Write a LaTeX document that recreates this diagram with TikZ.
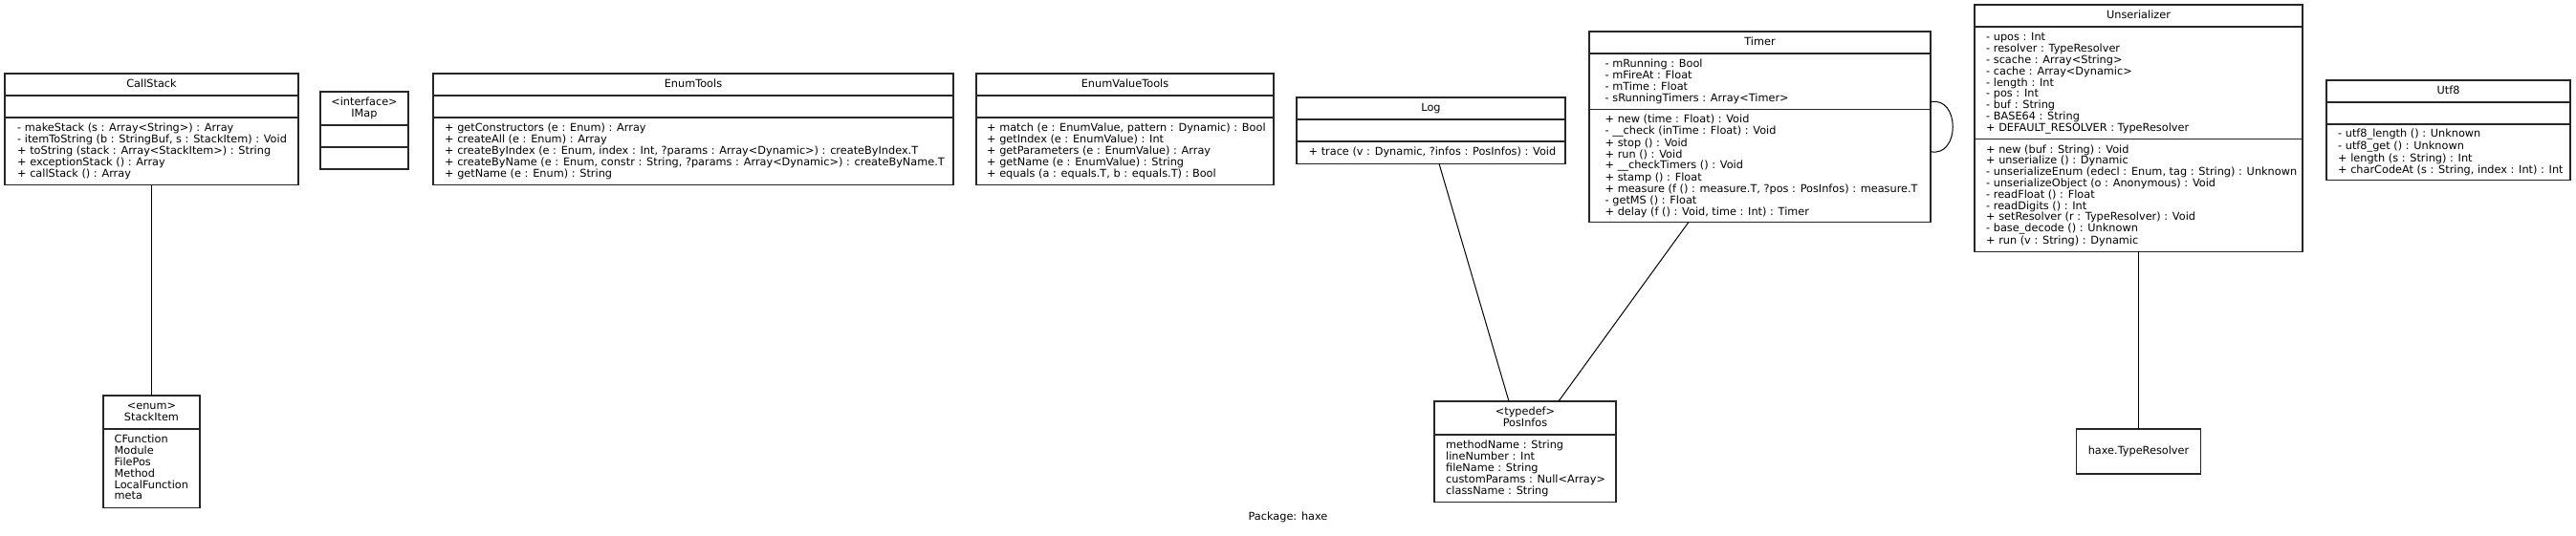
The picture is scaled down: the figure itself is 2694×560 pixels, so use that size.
\documentclass[tikz,border=0pt]{standalone}
\usepackage{fontspec}
\setmainfont{DejaVu Sans}
\newcommand\lstrut{\rule[-2.6pt]{0pt}{11.8pt}}
\tikzset{
  classbox/.style={draw=black!85, line width=1.3pt, rectangle, inner sep=0pt, outer sep=0pt, anchor=north west},
  sepline/.style={draw=black!85, line width=1.3pt},
  txt/.style={inner sep=0pt, align=left, anchor=west, font=\fontsize{11.3}{11.8}\selectfont, text=black},
  ttl/.style={inner sep=0pt, align=center, font=\fontsize{11.3}{11.8}\selectfont, text=black},
  link/.style={draw=black, line width=1pt},
}
\begin{document}
\begin{tikzpicture}[x=1pt,y=-1pt]
\useasboundingbox[fill=white] (0,0) rectangle (2694,560);

% ---------- CallStack ----------
\node[classbox, minimum width=307pt, minimum height=116.5pt] (callstack) at (5,77) {};
\draw[sepline] (callstack.west |- 0,100) -- (callstack.east |- 0,100);
\draw[sepline] (callstack.west |- 0,123) -- (callstack.east |- 0,123);
\node[ttl] (callstack-t) at (158.5,88.5) {\lstrut CallStack};
\node[txt] (callstack-m) at (18,158.25) {\lstrut - makeStack (s : Array<String>) : Array\\
\lstrut - itemToString (b : StringBuf, s : StackItem) : Void\\
\lstrut + toString (stack : Array<StackItem>) : String\\
\lstrut + exceptionStack () : Array\\
\lstrut + callStack () : Array};

% ---------- IMap ----------
\node[classbox, minimum width=92pt, minimum height=81pt] (imap) at (335,96) {};
\draw[sepline] (imap.west |- 0,131) -- (imap.east |- 0,131);
\draw[sepline] (imap.west |- 0,154) -- (imap.east |- 0,154);
\node[ttl] (imap-t) at (381,113.5) {\lstrut <interface>\\ \lstrut IMap};

% ---------- EnumTools ----------
\node[classbox, minimum width=544pt, minimum height=116.5pt] (enumtools) at (453,77) {};
\draw[sepline] (enumtools.west |- 0,100) -- (enumtools.east |- 0,100);
\draw[sepline] (enumtools.west |- 0,123) -- (enumtools.east |- 0,123);
\node[ttl] (enumtools-t) at (725,88.5) {\lstrut EnumTools};
\node[txt] (enumtools-m) at (465,158.25) {\lstrut + getConstructors (e : Enum) : Array\\
\lstrut + createAll (e : Enum) : Array\\
\lstrut + createByIndex (e : Enum, index : Int, ?params : Array<Dynamic>) : createByIndex.T\\
\lstrut + createByName (e : Enum, constr : String, ?params : Array<Dynamic>) : createByName.T\\
\lstrut + getName (e : Enum) : String};

% ---------- EnumValueTools ----------
\node[classbox, minimum width=311pt, minimum height=116.5pt] (evt) at (1021,77) {};
\draw[sepline] (evt.west |- 0,100) -- (evt.east |- 0,100);
\draw[sepline] (evt.west |- 0,123) -- (evt.east |- 0,123);
\node[ttl] (evt-t) at (1176.5,88.5) {\lstrut EnumValueTools};
\node[txt] (evt-m) at (1032,158.25) {\lstrut + match (e : EnumValue, pattern : Dynamic) : Bool\\
\lstrut + getIndex (e : EnumValue) : Int\\
\lstrut + getParameters (e : EnumValue) : Array\\
\lstrut + getName (e : EnumValue) : String\\
\lstrut + equals (a : equals.T, b : equals.T) : Bool};

% ---------- Log ----------
\node[classbox, minimum width=281pt, minimum height=69.3pt] (log) at (1356,102) {};
\draw[sepline] (log.west |- 0,125) -- (log.east |- 0,125);
\draw[sepline] (log.west |- 0,148) -- (log.east |- 0,148);
\node[ttl] (log-t) at (1496.5,113.5) {\lstrut Log};
\node[txt] (log-m) at (1368.5,159.65) {\lstrut + trace (v : Dynamic, ?infos : PosInfos) : Void};

% ---------- Timer ----------
\node[classbox, minimum width=357pt, minimum height=199.4pt] (timer) at (1662,33) {};
\draw[sepline] (timer.west |- 0,56) -- (timer.east |- 0,56);
\draw[sepline] (timer.west |- 0,114.7) -- (timer.east |- 0,114.7);
\node[ttl] (timer-t) at (1840.5,44.5) {\lstrut Timer};
\node[txt] (timer-a) at (1678.5,85.35) {\lstrut - mRunning : Bool\\
\lstrut - mFireAt : Float\\
\lstrut - mTime : Float\\
\lstrut - sRunningTimers : Array<Timer>};
\node[txt] (timer-m) at (1678.5,173.55) {\lstrut + new (time : Float) : Void\\
\lstrut - \_\_check (inTime : Float) : Void\\
\lstrut + stop () : Void\\
\lstrut + run () : Void\\
\lstrut + \_\_checkTimers () : Void\\
\lstrut + stamp () : Float\\
\lstrut + measure (f () : measure.T, ?pos : PosInfos) : measure.T\\
\lstrut - getMS () : Float\\
\lstrut + delay (f () : Void, time : Int) : Timer};

% ---------- Unserializer ----------
\node[classbox, minimum width=343pt, minimum height=258.4pt] (unser) at (2065,5) {};
\draw[sepline] (unser.west |- 0,28) -- (unser.east |- 0,28);
\draw[sepline] (unser.west |- 0,145.7) -- (unser.east |- 0,145.7);
\node[ttl] (unser-t) at (2236.5,16.5) {\lstrut Unserializer};
\node[txt] (unser-a) at (2077,86.85) {\lstrut - upos : Int\\
\lstrut - resolver : TypeResolver\\
\lstrut - scache : Array<String>\\
\lstrut - cache : Array<Dynamic>\\
\lstrut - length : Int\\
\lstrut - pos : Int\\
\lstrut - buf : String\\
\lstrut - BASE64 : String\\
\lstrut + DEFAULT\_RESOLVER : TypeResolver};
\node[txt] (unser-m) at (2077,204.55) {\lstrut + new (buf : String) : Void\\
\lstrut + unserialize () : Dynamic\\
\lstrut - unserializeEnum (edecl : Enum, tag : String) : Unknown\\
\lstrut - unserializeObject (o : Anonymous) : Void\\
\lstrut - readFloat () : Float\\
\lstrut - readDigits () : Int\\
\lstrut + setResolver (r : TypeResolver) : Void\\
\lstrut - base\_decode () : Unknown\\
\lstrut + run (v : String) : Dynamic};

% ---------- Utf8 ----------
\node[classbox, minimum width=255pt, minimum height=104.7pt] (utf) at (2433,84) {};
\draw[sepline] (utf.west |- 0,107) -- (utf.east |- 0,107);
\draw[sepline] (utf.west |- 0,130) -- (utf.east |- 0,130);
\node[ttl] (utf-t) at (2560.5,95.5) {\lstrut Utf8};
\node[txt] (utf-m) at (2445,159.35) {\lstrut - utf8\_length () : Unknown\\
\lstrut - utf8\_get () : Unknown\\
\lstrut + length (s : String) : Int\\
\lstrut + charCodeAt (s : String, index : Int) : Int};

% ---------- StackItem ----------
\node[classbox, minimum width=101pt, minimum height=117.3pt] (stackitem) at (108,414) {};
\draw[sepline] (stackitem.west |- 0,449) -- (stackitem.east |- 0,449);
\node[ttl] (stackitem-t) at (158.5,431.5) {\lstrut <enum>\\ \lstrut StackItem};
\node[txt] (stackitem-v) at (119.5,490.15) {\lstrut CFunction\\
\lstrut Module\\
\lstrut FilePos\\
\lstrut Method\\
\lstrut LocalFunction\\
\lstrut meta};

% ---------- PosInfos ----------
\node[classbox, minimum width=190pt, minimum height=105.5pt] (posinfos) at (1500,420) {};
\draw[sepline] (posinfos.west |- 0,455) -- (posinfos.east |- 0,455);
\node[ttl] (posinfos-t) at (1595,437.5) {\lstrut <typedef>\\ \lstrut PosInfos};
\node[txt] (posinfos-f) at (1512,490.25) {\lstrut methodName : String\\
\lstrut lineNumber : Int\\
\lstrut fileName : String\\
\lstrut customParams : Null<Array>\\
\lstrut className : String};

% ---------- haxe.TypeResolver ----------
\node[classbox, minimum width=130pt, minimum height=47pt] (tr) at (2171.5,449) {};
\node[ttl] (tr-t) at (2236.5,472.5) {\lstrut haxe.TypeResolver};

% ---------- connectors ----------
\draw[link] (callstack.south) -- (stackitem.north);
\draw[link] ([xshift=8.5pt]log.south) -- ([xshift=-17pt]posinfos.north);
\draw[link] ([xshift=-74.5pt]timer.south) -- ([xshift=35pt]posinfos.north);
\draw[link] (unser.south) -- (tr.north);
\draw[link] ([yshift=26pt]timer.east) .. controls (2050,100.5) and (2050,164.9) .. ([yshift=-26pt]timer.east);

% ---------- package label ----------
\node[ttl] (pkg) at (1347,541) {\lstrut Package: haxe};
\end{tikzpicture}
\end{document}
